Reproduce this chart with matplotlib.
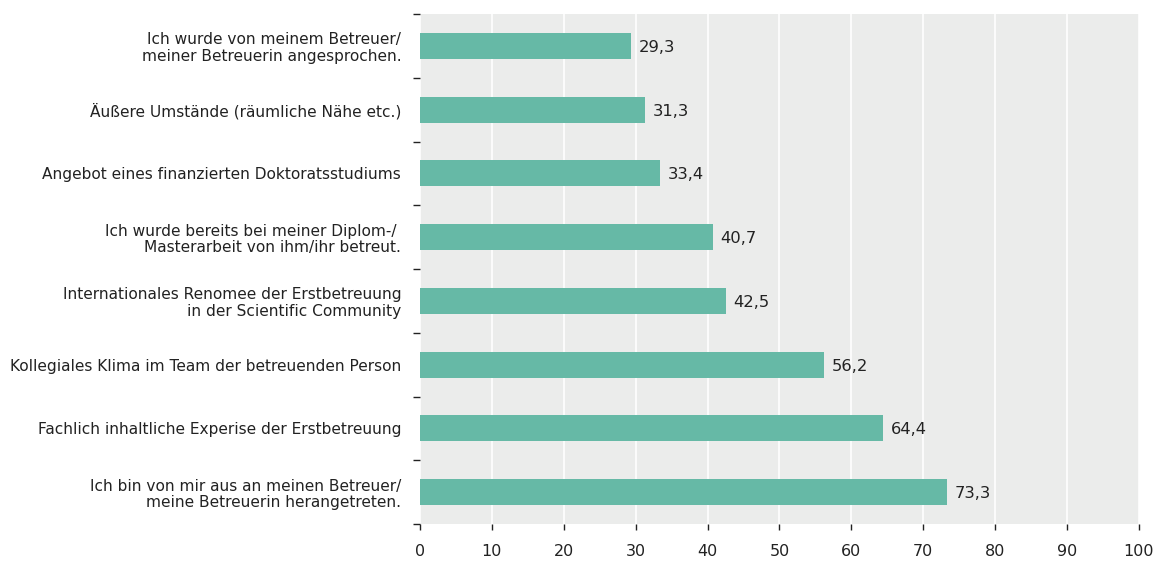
import matplotlib
matplotlib.use("Agg")
import matplotlib.pyplot as plt
import numpy as np

categories = [
    "Ich wurde von meinem Betreuer/\nmeiner Betreuerin angesprochen.",
    "Äußere Umstände (räumliche Nähe etc.)",
    "Angebot eines finanzierten Doktoratsstudiums",
    "Ich wurde bereits bei meiner Diplom-/ \nMasterarbeit von ihm/ihr betreut.",
    "Internationales Renomee der Erstbetreuung\nin der Scientific Community",
    "Kollegiales Klima im Team der betreuenden Person",
    "Fachlich inhaltliche Experise der Erstbetreuung",
    "Ich bin von mir aus an meinen Betreuer/\nmeine Betreuerin herangetreten.",
]
values = [29.3, 31.3, 33.4, 40.7, 42.5, 56.2, 64.4, 73.3]
xticks = [0, 10, 20, 30, 40, 50, 60, 70, 80, 90, 100]

plt.rcParams['font.family'] = ['DejaVu Sans']

fig = plt.figure(figsize=(11.54, 5.62), dpi=100)
ax = fig.add_axes([420/1154, 1-524/562, (1139-420)/1154, (524-14)/562])
ax.set_facecolor('#ebeceb')

y = np.arange(len(categories))
ax.barh(y, values, height=0.41, color='#66b9a6', zorder=3)
for yi, v in zip(y, values):
    ax.text(v + 1.1, yi, f"{v:.1f}".replace('.', ','), va='center_baseline', ha='left',
            fontsize=11.8, color='#222222', zorder=4)

ax.set_xlim(0, 100)
ax.set_ylim(len(categories) - 0.5, -0.5)
ax.set_xticks(xticks)
ax.set_xticklabels([str(t) for t in xticks], fontsize=11.5, color='#222222')
ax.grid(axis='x', color='white', linewidth=1.2, zorder=1)
ax.grid(axis='y', visible=False)

ax.set_yticks(np.arange(len(categories) + 1) - 0.5)
ax.set_yticklabels([])
ax.set_yticks(y, minor=True)
ax.set_yticklabels(categories, minor=True, fontsize=11.1, color='#222222', linespacing=1.1)
ax.tick_params(axis='y', which='major', length=5, width=1, color='#222222', direction='out')
ax.tick_params(axis='y', which='minor', length=0, pad=13.5)
ax.tick_params(axis='x', which='major', length=4.5, width=1, color='#222222', pad=10)
ax.tick_params(axis='x', which='minor', bottom=False)

for s in ax.spines.values():
    s.set_visible(False)

fig.savefig('out.png', dpi=100)
